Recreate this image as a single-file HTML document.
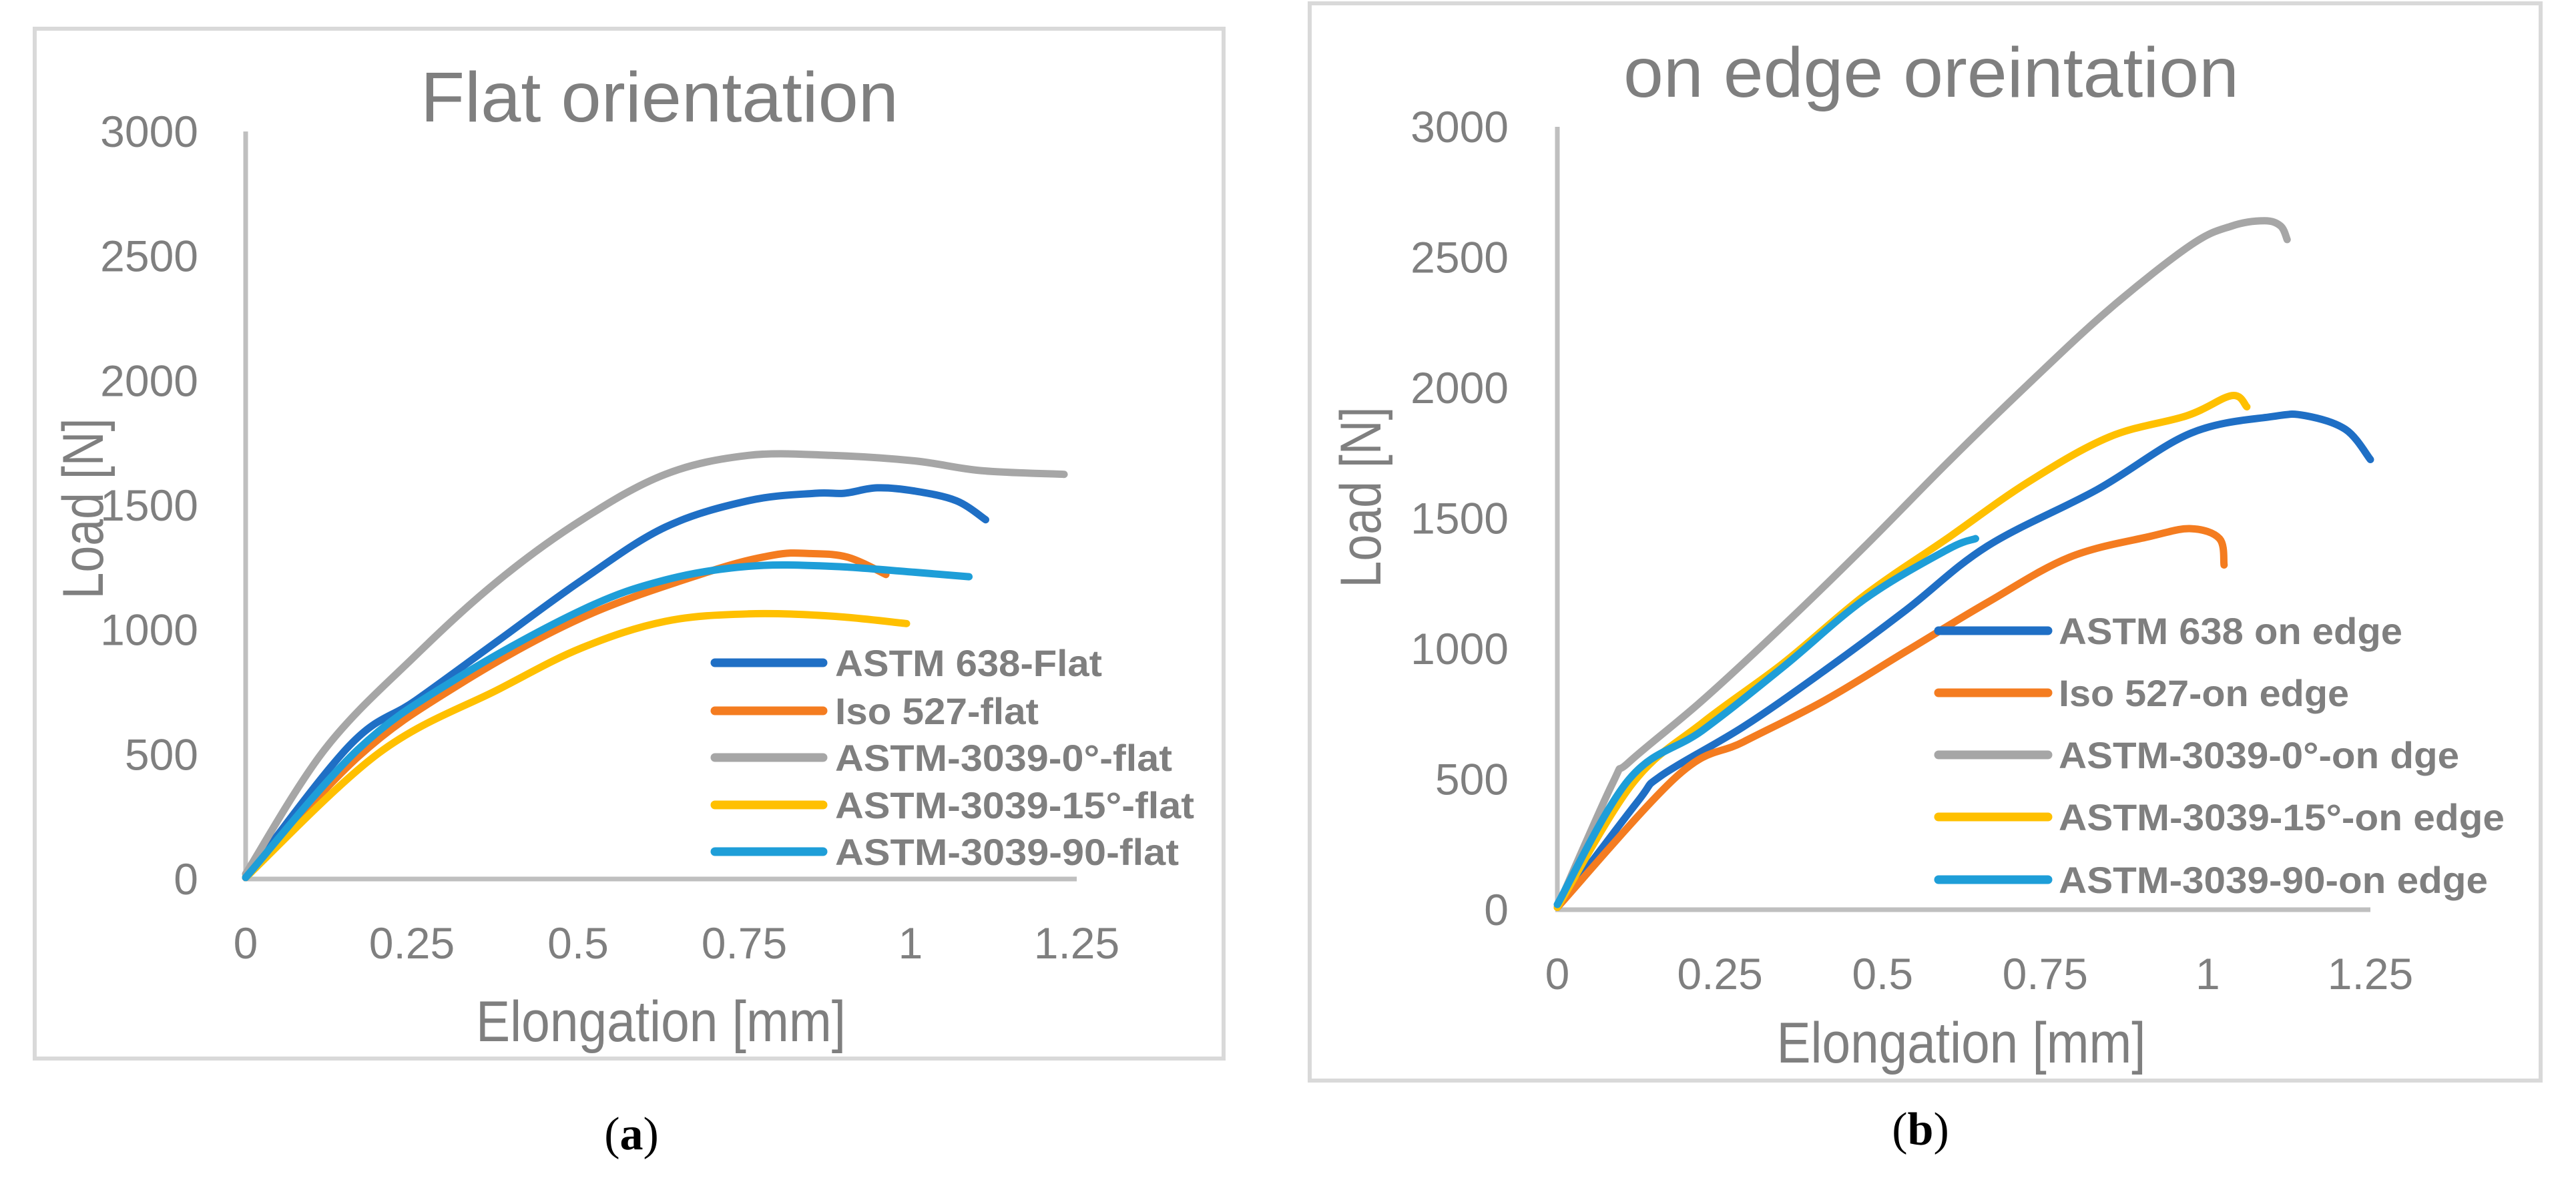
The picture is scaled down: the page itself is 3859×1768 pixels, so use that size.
<!DOCTYPE html>
<html><head><meta charset="utf-8"><style>
html,body{margin:0;padding:0;background:#fff;}
svg{display:block;}
text{font-family:"Liberation Sans",sans-serif;}
</style></head>
<body>
<svg id="fig" width="3859" height="1768" viewBox="0 0 3859 1768" xmlns="http://www.w3.org/2000/svg">
  <rect x="52" y="43" width="1781" height="1543" fill="#fff" stroke="#d9d9d9" stroke-width="6"/>
  <rect x="1962" y="5" width="1844" height="1614" fill="#fff" stroke="#d9d9d9" stroke-width="6"/>
  <text x="988" y="182" font-size="106" fill="#7f7f7f" text-anchor="middle" textLength="716" lengthAdjust="spacingAndGlyphs">Flat orientation</text>
  <text x="2893" y="145" font-size="106" fill="#7f7f7f" text-anchor="middle" textLength="922" lengthAdjust="spacingAndGlyphs">on edge oreintation</text>
  <text x="990" y="1560" font-size="86" fill="#7f7f7f" text-anchor="middle" textLength="554" lengthAdjust="spacingAndGlyphs">Elongation [mm]</text>
  <text x="2938" y="1592" font-size="86" fill="#7f7f7f" text-anchor="middle" textLength="553" lengthAdjust="spacingAndGlyphs">Elongation [mm]</text>
  <text transform="translate(154,762) rotate(-90)" font-size="86" fill="#7f7f7f" text-anchor="middle" textLength="271" lengthAdjust="spacingAndGlyphs">Load [N]</text>
  <text transform="translate(2068,745) rotate(-90)" font-size="86" fill="#7f7f7f" text-anchor="middle" textLength="271" lengthAdjust="spacingAndGlyphs">Load [N]</text>
  <text x="946" y="1722" font-size="70" fill="#000" text-anchor="middle" style="font-family:'Liberation Serif',serif">(<tspan font-weight="bold">a</tspan>)</text>
  <text x="2877" y="1715" font-size="70" fill="#000" text-anchor="middle" style="font-family:'Liberation Serif',serif">(<tspan font-weight="bold">b</tspan>)</text>
  <g id="chartA"></g>
  <g id="chartB"></g>
</svg>
<script>
const xTicks = [0, 0.25, 0.5, 0.75, 1, 1.25];
const xTickLabels = ["0", "0.25", "0.5", "0.75", "1", "1.25"];
const yTicks = [0, 500, 1000, 1500, 2000, 2500, 3000];
const yTickLabels = ["0", "500", "1000", "1500", "2000", "2500", "3000"];
const colors = ["#1f6fc5", "#f47c20", "#a6a6a6", "#ffc000", "#1e9ed8"];

const seriesNamesA = ["ASTM 638-Flat", "Iso 527-flat", "ASTM-3039-0°-flat", "ASTM-3039-15°-flat", "ASTM-3039-90-flat"];
const a638X = [0, 0.156, 0.256, 0.381, 0.506, 0.631, 0.756, 0.856, 0.9, 0.95, 1.006, 1.069, 1.113];
const a638Y = [6, 535, 717, 959, 1200, 1412, 1518, 1548, 1548, 1570, 1557, 1518, 1442];
const a527X = [0, 0.169, 0.319, 0.506, 0.694, 0.794, 0.85, 0.906, 0.963];
const a527Y = [6, 490, 777, 1049, 1231, 1300, 1306, 1291, 1222];
const a0X = [0, 0.119, 0.256, 0.381, 0.506, 0.631, 0.756, 0.881, 1.006, 1.106, 1.231];
const a0Y = [20, 520, 898, 1200, 1442, 1624, 1700, 1700, 1678, 1639, 1624];
const a15X = [0, 0.2, 0.381, 0.506, 0.631, 0.756, 0.881, 0.994];
const a15Y = [6, 505, 762, 928, 1034, 1064, 1055, 1025];
const a90X = [0, 0.169, 0.319, 0.506, 0.631, 0.756, 0.881, 1.006, 1.088];
const a90Y = [6, 520, 807, 1080, 1200, 1255, 1255, 1231, 1213];

const seriesNamesB = ["ASTM 638 on edge", "Iso 527-on edge", "ASTM-3039-0°-on dge", "ASTM-3039-15°-on edge", "ASTM-3039-90-on edge"];
const b638X = [0, 0.123, 0.16, 0.286, 0.411, 0.536, 0.661, 0.83, 0.974, 1.1, 1.15, 1.212, 1.25];
const b638Y = [9, 413, 514, 701, 917, 1148, 1393, 1610, 1826, 1890, 1893, 1840, 1725];
const b527X = [0, 0.185, 0.286, 0.411, 0.536, 0.661, 0.787, 0.912, 0.974, 1.018, 1.025];
const b527Y = [9, 514, 643, 802, 990, 1177, 1350, 1431, 1460, 1422, 1321];
const b0X = [0, 0.085, 0.11, 0.223, 0.348, 0.473, 0.599, 0.724, 0.849, 0.974, 1.037, 1.087, 1.112, 1.122];
const b0Y = [9, 485, 565, 802, 1090, 1393, 1711, 2014, 2302, 2547, 2620, 2640, 2620, 2568];
const b15X = [0, 0.116, 0.223, 0.348, 0.473, 0.599, 0.724, 0.849, 0.968, 1.037, 1.06];
const b15Y = [9, 485, 716, 946, 1206, 1422, 1639, 1812, 1893, 1970, 1927];
const b90X = [0, 0.11, 0.223, 0.348, 0.473, 0.599, 0.643];
const b90Y = [20, 499, 687, 932, 1191, 1379, 1422];

const NS = "http://www.w3.org/2000/svg";
function mk(tag, attrs, parent) {
  const e = document.createElementNS(NS, tag);
  for (const k in attrs) e.setAttribute(k, attrs[k]);
  parent.appendChild(e);
  return e;
}
function smoothPath(P) {
  let d = "M" + P[0][0].toFixed(1) + "," + P[0][1].toFixed(1);
  for (let i = 0; i < P.length - 1; i++) {
    const p0 = P[Math.max(0, i - 1)], p1 = P[i], p2 = P[i + 1], p3 = P[Math.min(P.length - 1, i + 2)];
    const t = 0.17;
    const c1 = [p1[0] + (p2[0] - p0[0]) * t, p1[1] + (p2[1] - p0[1]) * t];
    const c2 = [p2[0] - (p3[0] - p1[0]) * t, p2[1] - (p3[1] - p1[1]) * t];
    d += " C" + c1[0].toFixed(1) + "," + c1[1].toFixed(1) + " " + c2[0].toFixed(1) + "," + c2[1].toFixed(1) + " " + p2[0].toFixed(1) + "," + p2[1].toFixed(1);
  }
  return d;
}

function drawChart(g, cfg, xsList, ysList, names) {
  const sx = v => cfg.x0 + (v / 1.25) * (cfg.x1 - cfg.x0);
  const sy = v => cfg.y0 - (v / 3000) * (cfg.y0 - cfg.y1);
  const ax = mk("line", {x1: sx(0), y1: sy(0), x2: sx(0), y2: sy(3000), stroke: "#bfbfbf", "stroke-width": 7}, g);
  
  
  const bx = mk("line", {x1: sx(0) - 3, y1: sy(0), x2: sx(1.25), y2: sy(0), stroke: "#bfbfbf", "stroke-width": 7}, g);
  
  
  yTicks.forEach((v, i) => {
    const t = mk("text", {x: cfg.yLabelRight, y: sy(v) + 23, "font-size": 66, fill: "#7f7f7f", "text-anchor": "end"}, g);
    t.textContent = yTickLabels[i];
    
    
  });
  xTicks.forEach((v, i) => {
    const t = mk("text", {x: sx(v), y: cfg.xLabelY + 24, "font-size": 66, fill: "#7f7f7f", "text-anchor": "middle"}, g);
    t.textContent = xTickLabels[i];
    
    
  });
  xsList.forEach((xs, s) => {
    const ys = ysList[s];
    const P = xs.map((x, i) => [sx(x), sy(ys[i])]);
    const p = mk("path", {d: smoothPath(P), fill: "none", stroke: colors[s], "stroke-width": 11, "stroke-linejoin": "round", "stroke-linecap": "round"}, g);
    
    
  });
  names.forEach((n, s) => {
    const y = cfg.legY[s];
    const l = mk("line", {x1: cfg.legX0, y1: y, x2: cfg.legX1, y2: y, stroke: colors[s], "stroke-width": 13, "stroke-linecap": "round"}, g);
    
    
    const t = mk("text", {x: cfg.legTextX, y: y + 20, "font-size": 56, "font-weight": "bold", fill: "#7f7f7f", textLength: cfg.legLen[s], lengthAdjust: "spacingAndGlyphs"}, g);
    t.textContent = n;
    
    
  });
}

drawChart(document.getElementById("chartA"),
  {x0: 368, x1: 1613, y0: 1317, y1: 197, yLabelRight: 297, xLabelY: 1412,
   legX0: 1071, legX1: 1233, legTextX: 1251, legY: [993, 1065, 1135, 1206, 1276],
   legLen: [400, 305, 505, 538, 515]},
  [a638X, a527X, a0X, a15X, a90X], [a638Y, a527Y, a0Y, a15Y, a90Y], seriesNamesA);

drawChart(document.getElementById("chartB"),
  {x0: 2333, x1: 3551, y0: 1363, y1: 190, yLabelRight: 2260, xLabelY: 1458,
   legX0: 2904, legX1: 3068, legTextX: 3084, legY: [945, 1038, 1131, 1224, 1318],
   legLen: [515, 435, 600, 668, 643]},
  [b638X, b527X, b0X, b15X, b90X], [b638Y, b527Y, b0Y, b15Y, b90Y], seriesNamesB);
</script>
</body></html>
